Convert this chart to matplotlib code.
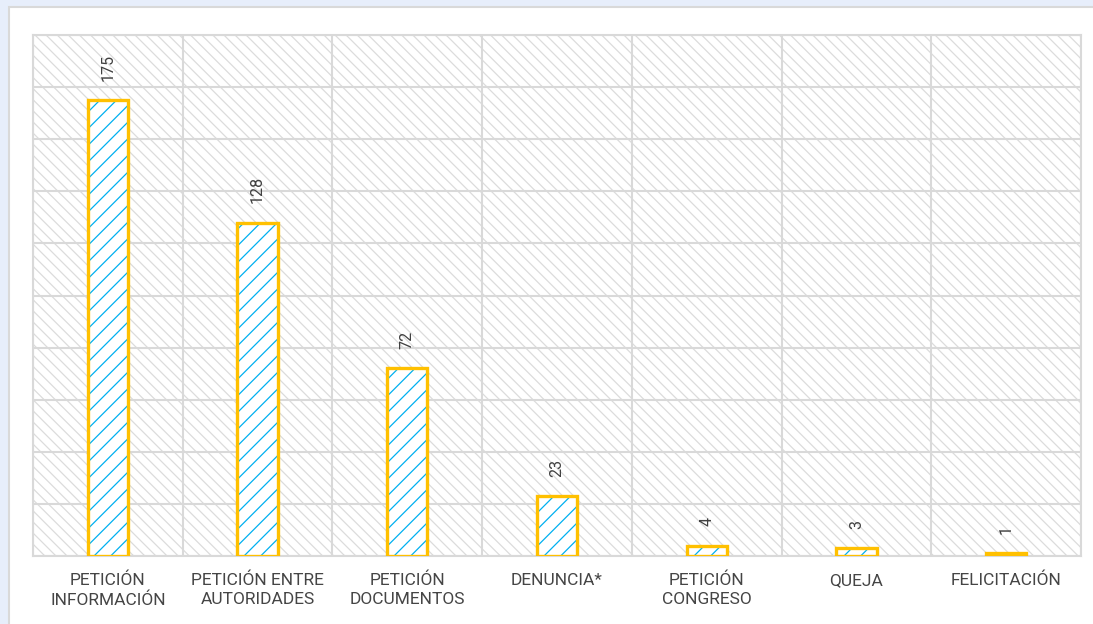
import matplotlib.pyplot as plt
from matplotlib.patches import Rectangle
import numpy as np

plt.rcParams['font.family'] = ['Roboto', 'DejaVu Sans']
plt.rcParams['hatch.linewidth'] = 0.9

categories = ['PETICIÓN\nINFORMACIÓN', 'PETICIÓN ENTRE\nAUTORIDADES', 'PETICIÓN\nDOCUMENTOS',
              'DENUNCIA*', 'PETICIÓN\nCONGRESO', 'QUEJA', 'FELICITACIÓN']
values = [175, 128, 72, 23, 4, 3, 1]

fig = plt.figure(figsize=(10.93, 6.24), dpi=100)
fig.patch.set_facecolor('#E7EEFB')
# white panel behind the chart
fig.patches.append(Rectangle((9/1093, -0.01), 1.1, 1.01 - 7/624, transform=fig.transFigure,
                             facecolor='white', edgecolor='#D9D9D9', linewidth=1.5, zorder=-5))

ax = fig.add_axes([33/1093, 1 - 556/624, (1081 - 33)/1093, (556 - 35)/624])
ax.set_facecolor('white')
ax.add_patch(Rectangle((0, 0), 1, 1, transform=ax.transAxes, facecolor='white',
                       edgecolor='#DCDCDC', hatch='\\\\\\', linewidth=0, zorder=0))

x = np.arange(len(categories))
ax.bar(x, values, width=0.27, facecolor='white', edgecolor='#00B0F0', hatch='//',
       linewidth=0, zorder=3)
ax.bar(x, values, width=0.27, facecolor='none', edgecolor='#FFC000', linewidth=2.4, zorder=4)

for xi, v in zip(x, values):
    ax.annotate(str(v), (xi, v), xytext=(0, 14), textcoords='offset points', rotation=90,
                ha='center', va='bottom', fontsize=11.5, color='#404040')

ax.set_xlim(-0.5, len(categories) - 0.5)
ax.set_ylim(0, 200)
ax.set_yticks(np.arange(0, 201, 20))
ax.set_yticklabels([])
ax.set_xticks(x)
ax.set_xticklabels(categories, fontsize=12.5, color='#454545', linespacing=1.35)
ax.set_xticks(np.arange(-0.5, len(categories), 1), minor=True)
ax.tick_params(axis='both', length=0, which='both')
ax.tick_params(axis='x', pad=12)
ax.grid(axis='y', which='major', color='#D9D9D9', linewidth=1.5, zorder=1)
ax.grid(axis='x', which='minor', color='#D9D9D9', linewidth=1.5, zorder=1)
ax.set_axisbelow(True)
for s in ax.spines.values():
    s.set_color('#D9D9D9')
    s.set_linewidth(1.5)

fig.savefig('out.png', dpi=100, facecolor=fig.get_facecolor())
